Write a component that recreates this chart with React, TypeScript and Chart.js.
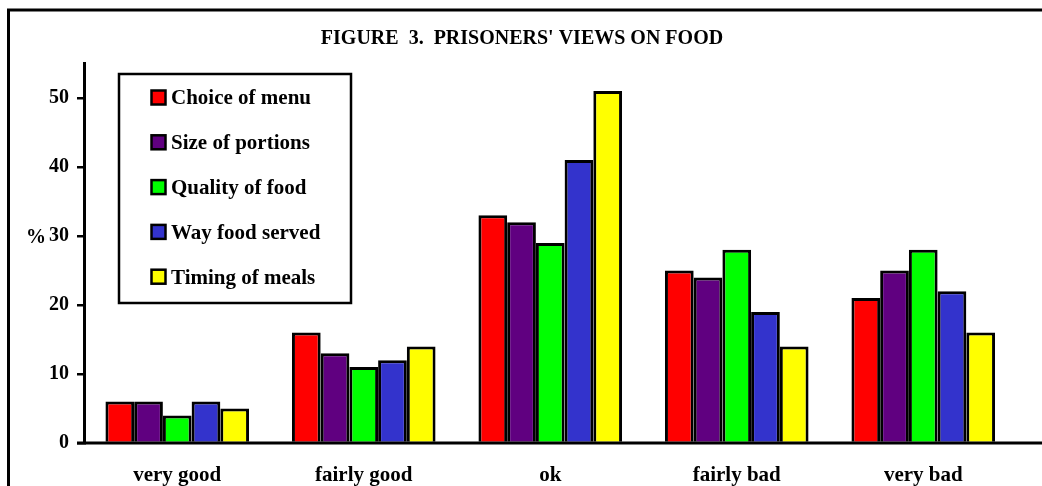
import React, { useEffect, useRef } from "react";
import { Chart, registerables } from "chart.js";
Chart.register(...registerables);

const categories = ["very good", "fairly good", "ok", "fairly bad", "very bad"];
const seriesNames = ["Choice of menu", "Size of portions", "Quality of food", "Way food served", "Timing of meals"];
const choiceOfMenu = [6, 16, 33, 25, 21];
const sizeOfPortions = [6, 13, 32, 24, 25];
const qualityOfFood = [4, 11, 29, 28, 28];
const wayFoodServed = [6, 12, 41, 19, 22];
const timingOfMeals = [5, 14, 51, 14, 16];
const seriesColors = ["#ff0000", "#600080", "#00ff00", "#3333cc", "#ffff00"];
const yTicks = [0, 10, 20, 30, 40, 50];
const titleText = "FIGURE  3.  PRISONERS' VIEWS ON FOOD";
const yAxisTitle = "%";

const FONT = "'Liberation Serif', 'Times New Roman', serif";

const decor = {
  id: "decor",
  afterDatasetsDraw(chart: any) {
    const ctx = chart.ctx;
    const a = chart.chartArea;
    ctx.save();
    ctx.strokeStyle = "#000";
    ctx.lineWidth = 3;
    ctx.beginPath();
    ctx.moveTo(a.left - 7, a.bottom);
    ctx.lineTo(chart.width, a.bottom);
    ctx.stroke();
    ctx.restore();
  },
  afterDraw(chart: any) {
    const ctx = chart.ctx;
    ctx.save();
    // frame
    ctx.strokeStyle = "#000";
    ctx.lineWidth = 3;
    ctx.beginPath();
    ctx.moveTo(8.5, chart.height);
    ctx.lineTo(8.5, 10);
    ctx.lineTo(chart.width, 10);
    ctx.stroke();
    // title
    ctx.fillStyle = "#000";
    ctx.font = `bold 20px ${FONT}`;
    ctx.textAlign = "center";
    ctx.textBaseline = "alphabetic";
    ctx.fillText(titleText, 522, 44);
    // y axis title
    ctx.font = `bold 20px ${FONT}`;
    ctx.textAlign = "right";
    ctx.textBaseline = "middle";
    const y30 = chart.scales.y.getPixelForValue(30);
    ctx.fillText(yAxisTitle, 46, y30 + 2);
    // legend
    const bx = 119, by = 74, bw = 232, bh = 229;
    ctx.fillStyle = "#fff";
    ctx.fillRect(bx, by, bw, bh);
    ctx.lineWidth = 2.5;
    ctx.strokeStyle = "#000";
    ctx.strokeRect(bx, by, bw, bh);
    ctx.font = `bold 21px ${FONT}`;
    ctx.textAlign = "left";
    ctx.textBaseline = "middle";
    chart.data.datasets.forEach((ds: any, i: number) => {
      const cy = 98 + i * 44.8;
      ctx.fillStyle = ds.backgroundColor;
      ctx.fillRect(151.5, cy - 7.5, 14, 14);
      ctx.lineWidth = 2.5;
      ctx.strokeStyle = "#000";
      ctx.strokeRect(151.5, cy - 7.5, 14, 14);
      ctx.fillStyle = "#000";
      ctx.fillText(ds.label, 171, cy + 1);
    });
    ctx.restore();
  },
};

export default function App() {
  const ref = useRef<HTMLCanvasElement>(null);
  useEffect(() => {
    if (!ref.current) return;
    const series = [choiceOfMenu, sizeOfPortions, qualityOfFood, wayFoodServed, timingOfMeals];
    const chart = new Chart(ref.current, {
      type: "bar",
      data: {
        labels: categories,
        datasets: series.map((d, i) => ({
          label: seriesNames[i],
          data: d,
          backgroundColor: seriesColors[i],
          borderColor: "#000",
          borderWidth: 3,
          categoryPercentage: 0.77,
          barPercentage: 1,
        })),
      },
      options: {
        animation: false,
        responsive: false,
        maintainAspectRatio: false,
        layout: { padding: { top: 63.5, right: 25.5, left: 0, bottom: 0 } },
        plugins: { legend: { display: false }, title: { display: false }, tooltip: { enabled: false } },
        scales: {
          x: {
            grid: { display: false },
            border: { display: false },
            ticks: { color: "#000", font: { family: FONT, size: 21, weight: "bold" }, padding: 12 },
            afterFit: (s: any) => { s.height = 43; },
          },
          y: {
            min: 0,
            max: 55,
            afterBuildTicks: (s: any) => { s.ticks = yTicks.map((v) => ({ value: v })); },
            grid: { display: true, drawOnChartArea: false, drawTicks: true, tickLength: 7, color: "#000", lineWidth: 2.5 },
            border: { display: true, color: "#000", width: 3 },
            ticks: { color: "#000", font: { family: FONT, size: 20, weight: "bold" }, padding: 8 },
            afterFit: (s: any) => { s.width = 84; },
          },
        },
      },
      plugins: [decor],
    });
    return () => chart.destroy();
  }, []);
  return (
    <div style={{ position: "fixed", left: 0, top: 0, width: 1042, height: 486, background: "#fff" }}>
      <canvas ref={ref} width={1042} height={486} style={{ width: 1042, height: 486, display: "block" }} />
    </div>
  );
}
